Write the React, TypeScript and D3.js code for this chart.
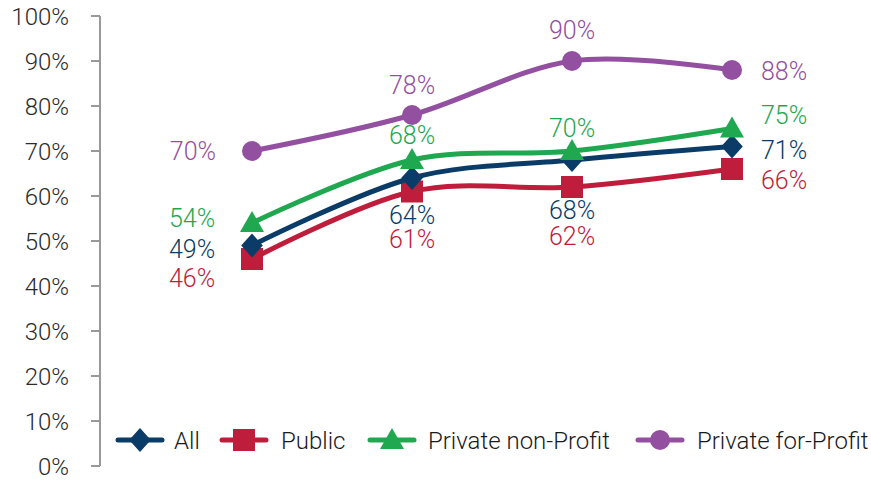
import React from "react";
import * as d3 from "d3";

const categories = ["A", "B", "C", "D"];
const seriesNames = ["All", "Public", "Private non-Profit", "Private for-Profit"];
const allValues = [49, 64, 68, 71];
const publicValues = [46, 61, 62, 66];
const nonProfitValues = [54, 68, 70, 75];
const forProfitValues = [70, 78, 90, 88];
const yTicks = [0, 10, 20, 30, 40, 50, 60, 70, 80, 90, 100];

const colors = ["#0b3c68", "#be1e3c", "#1fa84f", "#9350a1"];
const markers = ["diamond", "square", "triangle", "circle"];

// label placement per series per point: [dx, dy, anchor]
const labelPlacement: [number, number, string][][] = [
  [[-60, 12.5, "middle"], [0, 46, "middle"], [0, 59, "middle"], [29, 12.5, "start"]],
  [[-60, 28, "middle"], [0, 56, "middle"], [0, 58, "middle"], [29, 20, "start"]],
  [[-60, 4, "middle"], [0, -16, "middle"], [0, -14, "middle"], [29, -4.5, "start"]],
  [[-36, 9, "end"], [0, -21, "middle"], [0, -22, "middle"], [29, 10, "start"]],
];

const W = 871;
const H = 481;

function Marker({ type, x, y, color }: { type: string; x: number; y: number; color: string }) {
  if (type === "diamond") {
    const s = 12;
    return <path d={`M${x},${y - s}L${x + s * 0.9},${y}L${x},${y + s}L${x - s * 0.9},${y}Z`} fill={color} />;
  }
  if (type === "square") {
    return <rect x={x - 11} y={y - 11} width={22} height={22} fill={color} />;
  }
  if (type === "triangle") {
    return <path d={`M${x},${y - 12}L${x + 12},${y + 9}L${x - 12},${y + 9}Z`} fill={color} />;
  }
  return <circle cx={x} cy={y} r={10} fill={color} />;
}

export default function App() {
  const x = d3.scalePoint<string>().domain(categories).range([252, 732]);
  const y = d3.scaleLinear().domain([0, 100]).range([466, 16]);
  const data = [allValues, publicValues, nonProfitValues, forProfitValues];
  const line = d3
    .line<number>()
    .x((_, i) => x(categories[i]) as number)
    .y((d) => y(d))
    .curve(d3.curveCardinal.tension(0));

  const font = "Roboto, 'Liberation Sans', sans-serif";
  const legendX = [[118, 174], [222, 281], [370, 428], [638, 697]];
  const legendY = 440;

  const drawOrder = [3, 1, 0, 2];

  return (
    <svg width={W} height={H} style={{ position: "absolute", left: 0, top: 0, background: "#fff" }} fontFamily={font} fontWeight={300}>
      {/* axis */}
      <line x1={100} x2={100} y1={y(100)} y2={y(0)} stroke="#999" strokeWidth={2} />
      {yTicks.map((t) => (
        <g key={t}>
          <line x1={91} x2={100} y1={y(t)} y2={y(t)} stroke="#999" strokeWidth={2} />
          <text x={69} y={y(t)} dy="0.36em" textAnchor="end" fontSize={24} fill="#2b2b2b">
            {t}%
          </text>
        </g>
      ))}
      {drawOrder.map((si) => (
        <g key={si}>
          <path d={line(data[si]) || ""} fill="none" stroke={colors[si]} strokeWidth={5} />
          {data[si].map((v, i) => (
            <Marker key={i} type={markers[si]} x={x(categories[i]) as number} y={y(v)} color={colors[si]} />
          ))}
        </g>
      ))}
      {data.map((vals, si) =>
        vals.map((v, i) => {
          const [dx, dy, anchor] = labelPlacement[si][i];
          return (
            <text
              key={`${si}-${i}`}
              x={(x(categories[i]) as number) + dx}
              y={y(v) + dy}
              textAnchor={anchor as any}
              fontSize={25}
              fill={colors[si]}
            >
              {v}%
            </text>
          );
        })
      )}
      {/* legend */}
      {seriesNames.map((name, si) => {
        const [lx, tx] = legendX[si];
        return (
          <g key={name}>
            <line x1={lx} x2={lx + 44} y1={legendY} y2={legendY} stroke={colors[si]} strokeWidth={5} strokeLinecap="round" />
            <Marker type={markers[si]} x={lx + 22} y={legendY} color={colors[si]} />
            <text x={tx} y={legendY} dy="0.36em" fontSize={24} fill="#1a1a1a">
              {name}
            </text>
          </g>
        );
      })}
    </svg>
  );
}
